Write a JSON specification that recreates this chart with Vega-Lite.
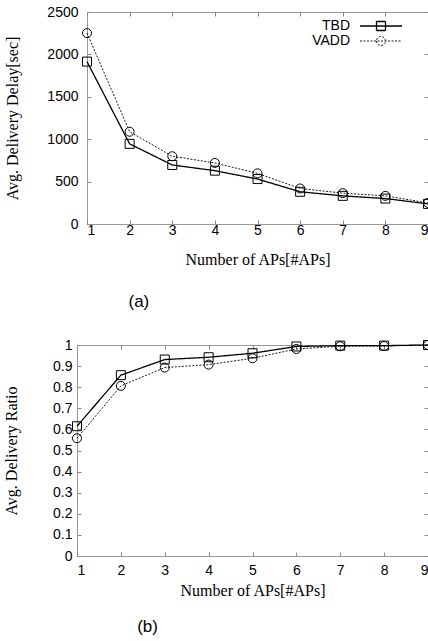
{
  "$schema": "https://vega.github.io/schema/vega-lite/v6.json",
  "padding": {"left": 3, "top": 4, "right": 0, "bottom": 0},
  "background": "white",
  "spacing": 26,
  "config": {
    "view": {"stroke": "#999", "strokeWidth": 1},
    "axis": {
      "labelFont": "Liberation Sans", "labelFontSize": 14, "labelColor": "black", "format": "~r",
      "titleFont": "Liberation Serif", "titleFontSize": 16, "titleFontWeight": "normal", "titleColor": "black",
      "tickColor": "#888", "tickSize": -4, "domain": false, "grid": false
    },
    "title": {"font": "Liberation Sans", "fontSize": 17, "fontWeight": "normal", "color": "black"},
    "legend": {
      "labelFont": "Liberation Sans", "labelFontSize": 14, "labelColor": "black",
      "padding": 0, "rowPadding": -1, "symbolSize": 100, "symbolStrokeColor": "black",
      "symbolFillColor": "transparent", "symbolStrokeWidth": 1
    }
  },
  "datasets": {
    "delay": [
      {"aps": 1, "series": "TBD", "value": 1915},
      {"aps": 2, "series": "TBD", "value": 945},
      {"aps": 3, "series": "TBD", "value": 696},
      {"aps": 4, "series": "TBD", "value": 629},
      {"aps": 5, "series": "TBD", "value": 530},
      {"aps": 6, "series": "TBD", "value": 380},
      {"aps": 7, "series": "TBD", "value": 332},
      {"aps": 8, "series": "TBD", "value": 300},
      {"aps": 9, "series": "TBD", "value": 237},
      {"aps": 1, "series": "VADD", "value": 2251},
      {"aps": 2, "series": "VADD", "value": 1088},
      {"aps": 3, "series": "VADD", "value": 799},
      {"aps": 4, "series": "VADD", "value": 720},
      {"aps": 5, "series": "VADD", "value": 597},
      {"aps": 6, "series": "VADD", "value": 419},
      {"aps": 7, "series": "VADD", "value": 364},
      {"aps": 8, "series": "VADD", "value": 332},
      {"aps": 9, "series": "VADD", "value": 249}
    ],
    "ratio": [
      {"aps": 1, "series": "TBD", "value": 0.615},
      {"aps": 2, "series": "TBD", "value": 0.857},
      {"aps": 3, "series": "TBD", "value": 0.931},
      {"aps": 4, "series": "TBD", "value": 0.942},
      {"aps": 5, "series": "TBD", "value": 0.961},
      {"aps": 6, "series": "TBD", "value": 0.993},
      {"aps": 7, "series": "TBD", "value": 0.997},
      {"aps": 8, "series": "TBD", "value": 0.997},
      {"aps": 9, "series": "TBD", "value": 1.0},
      {"aps": 1, "series": "VADD", "value": 0.558},
      {"aps": 2, "series": "VADD", "value": 0.806},
      {"aps": 3, "series": "VADD", "value": 0.893},
      {"aps": 4, "series": "VADD", "value": 0.907},
      {"aps": 5, "series": "VADD", "value": 0.937},
      {"aps": 6, "series": "VADD", "value": 0.981},
      {"aps": 7, "series": "VADD", "value": 0.994},
      {"aps": 8, "series": "VADD", "value": 0.995},
      {"aps": 9, "series": "VADD", "value": 1.0}
    ]
  },
  "vconcat": [
    {"hconcat": [
    {
      "width": 10, "height": 10,
      "data": {"values": [{"s": 0}]},
      "mark": {"type": "point", "opacity": 0},
      "encoding": {},
      "view": {"stroke": null}
    },
    {
      "width": 341, "height": 212,
      "data": {"name": "delay"},
      "title": {"text": "(a)", "orient": "bottom", "anchor": "start", "align": "center", "dx": 134, "offset": 27},
      "layer": [
        {
          "mark": {"type": "line", "color": "black"},
          "encoding": {
            "x": {"field": "aps", "type": "quantitative", "scale": {"domain": [1, 9], "nice": false},
                  "axis": {"orient": "bottom", "values": [1,2,3,4,5,6,7,8,9], "title": "Number of APs[#APs]", "labelPadding": 3, "titlePadding": 14}},
            "y": {"field": "value", "type": "quantitative", "scale": {"domain": [0, 2500], "nice": false},
                  "axis": {"orient": "left", "values": [0,500,1000,1500,2000,2500], "title": "Avg. Delivery Delay[sec]", "labelPadding": 13, "titlePadding": 26}},
            "strokeDash": {"field": "series", "type": "nominal", "scale": {"domain": ["TBD", "VADD"], "range": [[1, 0], [2, 1.5]]},
              "legend": {"title": null, "orient": "none", "legendX": 228, "legendY": 7,
                "encode": {
                  "symbols": {"update": {"x": {"value": 76},
                    "shape": {"signal": "datum.value === 'TBD' ? 'M-4.2,0H4.2M-0.9,-0.9H0.9V0.9H-0.9Z' : 'M-4.2,0H4.2M-0.9,0A0.9,0.9,0,1,0,0.9,0A0.9,0.9,0,1,0,-0.9,0'"}}},
                  "labels": {"update": {"x": {"value": 45}, "align": {"value": "right"}}}
                }}},
            "strokeWidth": {"field": "series", "type": "nominal", "scale": {"domain": ["TBD", "VADD"], "range": [1.3, 0.9]}, "legend": null}
          }
        },
        {
          "transform": [{"filter": "datum.series === 'TBD'"}],
          "mark": {"type": "point", "shape": "square", "color": "black", "filled": false, "size": 81, "strokeWidth": 1, "opacity": 1},
          "encoding": {
            "x": {"field": "aps", "type": "quantitative", "axis": {"orient": "top", "values": [1,2,3,4,5,6,7,8,9], "labels": false, "title": null}},
            "y": {"field": "value", "type": "quantitative", "axis": {"orient": "right", "values": [0,500,1000,1500,2000,2500], "labels": false, "title": null}}
          }
        },
        {
          "transform": [{"filter": "datum.series === 'VADD'"}],
          "mark": {"type": "point", "shape": "circle", "color": "black", "filled": false, "size": 81, "strokeWidth": 1, "opacity": 1},
          "encoding": {
            "x": {"field": "aps", "type": "quantitative", "axis": null},
            "y": {"field": "value", "type": "quantitative", "axis": null}
          }
        }
      ],
      "resolve": {"axis": {"x": "independent", "y": "independent"}}
    }], "spacing": 0, "bounds": "flush"},
    {
      "width": 351, "height": 211,
      "data": {"name": "ratio"},
      "title": {"text": "(b)", "orient": "bottom", "anchor": "start", "align": "center", "dx": 144, "offset": 21},
      "layer": [
        {
          "mark": {"type": "line", "color": "black"},
          "encoding": {
            "x": {"field": "aps", "type": "quantitative", "scale": {"domain": [1, 9], "nice": false},
                  "axis": {"orient": "bottom", "values": [1,2,3,4,5,6,7,8,9], "title": "Number of APs[#APs]", "labelPadding": 11, "titlePadding": 5}},
            "y": {"field": "value", "type": "quantitative", "scale": {"domain": [0, 1], "nice": false},
                  "axis": {"orient": "left", "values": [0,0.1,0.2,0.3,0.4,0.5,0.6,0.7,0.8,0.9,1], "title": "Avg. Delivery Ratio", "labelPadding": 9, "titlePadding": 33}},
            "strokeDash": {"field": "series", "type": "nominal", "scale": {"domain": ["TBD", "VADD"], "range": [[1, 0], [2, 1.5]]},
              "legend": {"title": null, "orient": "none", "legendX": 236, "legendY": 186,
                "encode": {
                  "symbols": {"update": {"x": {"value": 76},
                    "shape": {"signal": "datum.value === 'TBD' ? 'M-4.2,0H4.2M-0.9,-0.9H0.9V0.9H-0.9Z' : 'M-4.2,0H4.2M-0.9,0A0.9,0.9,0,1,0,0.9,0A0.9,0.9,0,1,0,-0.9,0'"}}},
                  "labels": {"update": {"x": {"value": 45}, "align": {"value": "right"}}}
                }}},
            "strokeWidth": {"field": "series", "type": "nominal", "scale": {"domain": ["TBD", "VADD"], "range": [1.3, 0.9]}, "legend": null}
          }
        },
        {
          "transform": [{"filter": "datum.series === 'TBD'"}],
          "mark": {"type": "point", "shape": "square", "color": "black", "filled": false, "size": 81, "strokeWidth": 1, "opacity": 1},
          "encoding": {
            "x": {"field": "aps", "type": "quantitative", "axis": {"orient": "top", "values": [1,2,3,4,5,6,7,8,9], "labels": false, "title": null}},
            "y": {"field": "value", "type": "quantitative", "axis": {"orient": "right", "values": [0,0.1,0.2,0.3,0.4,0.5,0.6,0.7,0.8,0.9,1], "labels": false, "title": null}}
          }
        },
        {
          "transform": [{"filter": "datum.series === 'VADD'"}],
          "mark": {"type": "point", "shape": "circle", "color": "black", "filled": false, "size": 81, "strokeWidth": 1, "opacity": 1},
          "encoding": {
            "x": {"field": "aps", "type": "quantitative", "axis": null},
            "y": {"field": "value", "type": "quantitative", "axis": null}
          }
        }
      ],
      "resolve": {"axis": {"x": "independent", "y": "independent"}}
    }
  ]
}
